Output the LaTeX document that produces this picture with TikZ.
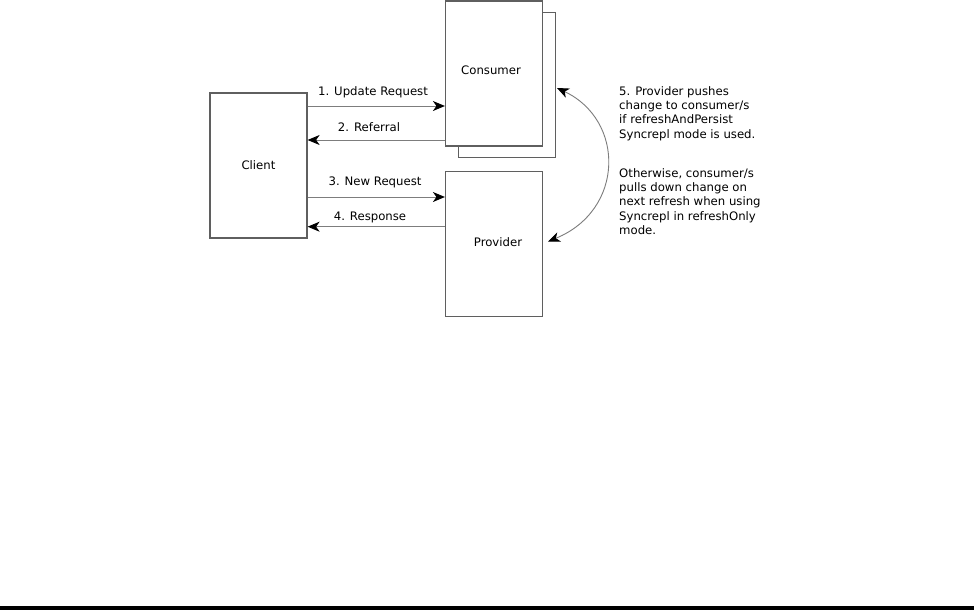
\documentclass[tikz,border=0pt]{standalone}
\usepackage{fontspec}
\setmainfont{DejaVu Sans}
\usetikzlibrary{arrows.meta}
\begin{document}
\begin{tikzpicture}[x=1pt,y=-1pt,
  box/.style={draw={rgb,255:red,95;green,95;blue,95},line width=1.2pt,fill=white,
    minimum width=97pt,minimum height=145pt,inner sep=0pt,font=\fontsize{11.7}{14.3}\selectfont},
  msg/.style={draw={rgb,255:red,125;green,125;blue,125},line width=0.9pt,-{Stealth[length=12pt,width=10pt,inset=3.5pt,black]}},
  lbl/.style={inner sep=0pt,font=\fontsize{11.7}{14.3}\selectfont},
  note/.style={inner sep=0pt,anchor=base west,align=left,font=\fontsize{11.7}{14.3}\selectfont}]
\useasboundingbox (0,0) rectangle (974,610);
\fill[white] (0,0) rectangle (974,610);
% boxes
\node[box] (client) at (258.5,165.5) {Client};
\node[box] (consumerback) at (506.8,85) {};
\node[box] (consumer) at (494,73.5) {};
\node[lbl] (consumertxt) at (491,70) {Consumer};
\node[box] (provider) at (494,243.7) {};
\node[lbl] (providertxt) at (498,242) {Provider};
% messages
\draw[msg] (client.east |- 0,106) -- (consumer.west |- 0,106);
\node[lbl] (l1) at (373,92.5) {1. Update Request};
\draw[msg] (consumer.west |- 0,140) -- (client.east |- 0,140);
\node[lbl] (l2) at (369,127.5) {2. Referral};
\draw[msg] (client.east |- 0,197) -- (provider.west |- 0,197);
\node[lbl] (l3) at (375,182.5) {3. New Request};
\draw[msg] (provider.west |- 0,226.7) -- (client.east |- 0,226.7);
\node[lbl] (l4) at (370,217) {4. Response};
% sync arrow
\coordinate (s1) at (557,88);
\coordinate (s2) at (548,241.5);
\draw[draw={rgb,255:red,125;green,125;blue,125},line width=0.9pt,
  {Stealth[length=12pt,width=10pt,inset=3.5pt,black]}-{Stealth[length=12pt,width=10pt,inset=3.5pt,black]}]
  (s1) .. controls (625,120) and (625,210) .. (s2);
% notes
\node[note] (n1) at (619,138) {5. Provider pushes\\change to consumer/s\\if refreshAndPersist\\Syncrepl mode is used.};
\node[note] (n2) at (619,234.5) {Otherwise, consumer/s\\pulls down change on\\next refresh when using\\Syncrepl in refreshOnly\\mode.};
% bottom bar
\fill[black] (0,605.5) rectangle (974,610);
\end{tikzpicture}
\end{document}
